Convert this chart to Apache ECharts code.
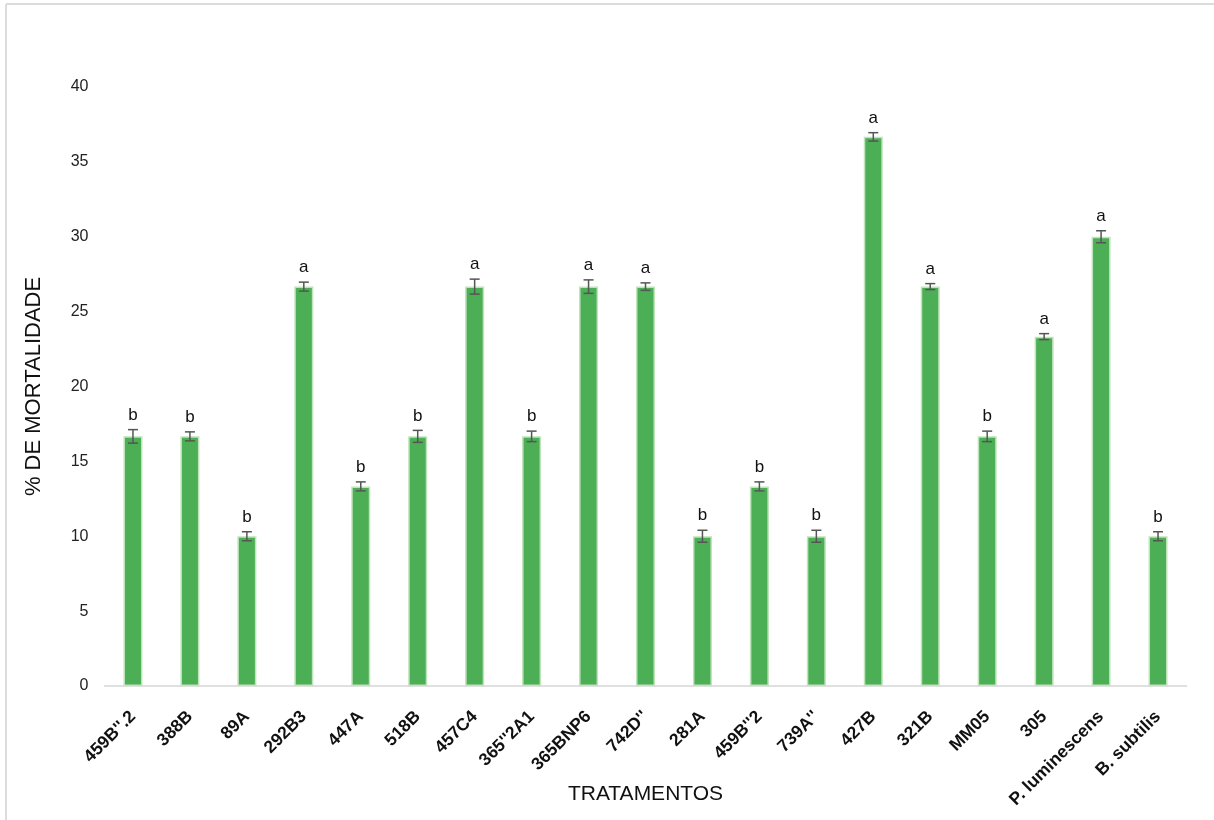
<!DOCTYPE html>
<html>
<head>
<meta charset="utf-8">
<script src="https://cdn.jsdelivr.net/npm/echarts@6/dist/echarts.min.js"></script>
<style>
  html, body { margin: 0; padding: 0; background: #fff; }
  #chart { width: 1214px; height: 820px; }
</style>
</head>
<body>
<div id="chart"></div>
<script>
// Treatments on the x axis
const categories = ["459B''.2", "388B", "89A", "292B3", "447A", "518B", "457C4", "365''2A1",
  "365BNP6", "742D''", "281A", "459B''2", "739A''", "427B", "321B", "MM05", "305",
  "P. luminescens", "B. subtilis"];
// Mean mortality (%)
const mortality = [16.67, 16.67, 10, 26.67, 13.33, 16.67, 26.67, 16.67,
  26.67, 26.67, 10, 13.33, 10, 36.67, 26.67, 16.67, 23.33, 30, 10];
// Error half-widths (%)
const errors = [0.45, 0.3, 0.3, 0.3, 0.3, 0.4, 0.5, 0.35,
  0.45, 0.25, 0.4, 0.3, 0.4, 0.28, 0.2, 0.35, 0.2, 0.4, 0.3];
// Significance groups
const groups = ['b', 'b', 'b', 'a', 'b', 'b', 'a', 'b', 'a', 'a', 'b', 'b', 'b', 'a', 'a', 'b', 'a', 'a', 'b'];
// Y axis tick values
const yTicks = [0, 5, 10, 15, 20, 25, 30, 35, 40];

const FONT = '"Liberation Sans", Arial, sans-serif';
const chart = echarts.init(document.getElementById('chart'), null, { renderer: 'canvas' });

const errData = categories.map((c, i) => [i, mortality[i], errors[i]]);

chart.setOption({
  animation: false,
  backgroundColor: '#ffffff',
  grid: { left: 104.5, right: 27.5, top: 87, bottom: 134, containLabel: false, outerBoundsMode: 'none' },
  graphic: [
    { type: 'line', shape: { x1: 6, y1: 4, x2: 1214, y2: 4 }, style: { stroke: '#dcdcdc', lineWidth: 2 } },
    { type: 'line', shape: { x1: 6, y1: 4, x2: 6, y2: 820 }, style: { stroke: '#dcdcdc', lineWidth: 2 } }
  ],
  xAxis: {
    type: 'category',
    data: categories,
    name: 'TRATAMENTOS',
    nameLocation: 'middle',
    nameGap: 98,
    nameMoveOverlap: false,
    nameTextStyle: { fontFamily: FONT, fontSize: 21, color: '#111' },
    axisLine: { lineStyle: { color: '#d6d6d6', width: 1.5 } },
    axisTick: { show: false },
    axisLabel: {
      interval: 0, rotate: 45, margin: 28,
      align: 'right', verticalAlign: 'middle',
      fontFamily: FONT, fontSize: 17.5, fontWeight: 'bold', color: '#111'
    }
  },
  yAxis: {
    type: 'value',
    min: 0, max: 40, interval: 5,
    name: '% DE MORTALIDADE',
    nameLocation: 'middle',
    nameGap: 60,
    nameRotate: 90,
    nameMoveOverlap: false,
    nameTextStyle: { fontFamily: FONT, fontSize: 22, color: '#111' },
    axisLine: { show: false },
    axisTick: { show: false },
    splitLine: { show: false },
    axisLabel: {
      margin: 16, fontFamily: FONT, fontSize: 16, color: '#222',
      formatter: v => yTicks.includes(v) ? String(v) : ''
    }
  },
  series: [
    {
      type: 'bar',
      data: mortality,
      barWidth: 19,
      itemStyle: { color: '#4caf55', borderColor: '#bfe3ba', borderWidth: 1.5 }
    },
    {
      type: 'custom',
      data: errData,
      z: 10,
      renderItem: (params, api) => {
        const i = api.value(0);
        const v = api.value(1);
        const e = api.value(2);
        const top = api.coord([i, v + e]);
        const bot = api.coord([i, v - e]);
        const x = top[0];
        const cap = 5;
        const lineStyle = { stroke: '#555555', lineWidth: 1.5 };
        return {
          type: 'group',
          children: [
            { type: 'line', shape: { x1: x, y1: top[1], x2: x, y2: bot[1] }, style: lineStyle },
            { type: 'line', shape: { x1: x - cap, y1: top[1], x2: x + cap, y2: top[1] }, style: lineStyle },
            { type: 'line', shape: { x1: x - cap, y1: bot[1], x2: x + cap, y2: bot[1] }, style: lineStyle },
            {
              type: 'text',
              style: {
                text: groups[params.dataIndex],
                x: x, y: top[1] - 6,
                align: 'center', verticalAlign: 'bottom',
                fontFamily: FONT, fontSize: 17, fill: '#111'
              }
            }
          ]
        };
      }
    }
  ]
});
</script>
</body>
</html>
